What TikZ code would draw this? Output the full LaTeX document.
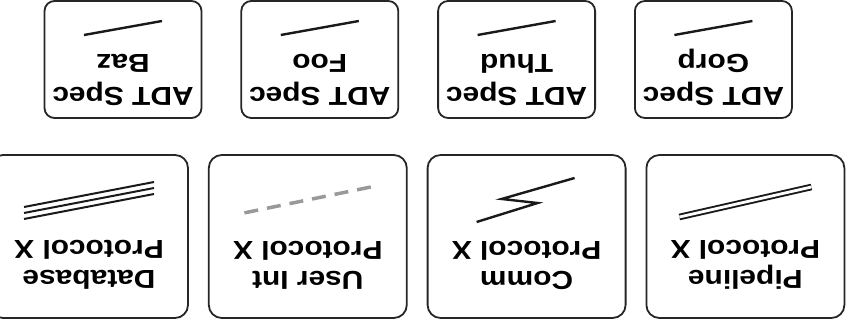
\documentclass[tikz,border=0pt]{standalone}
\usepackage{fontspec}
\setmainfont[FakeStretch=1.15]{Liberation Sans}
\usetikzlibrary{positioning}

\tikzset{
    protbox/.style={draw=black!85, line width=1.8pt, rounded corners=13pt,
        minimum width=198pt, minimum height=163pt},
    adtbox/.style={draw=black!85, line width=1.8pt, rounded corners=10pt,
        minimum width=157pt, minimum height=117pt},
    boxtext/.style={align=center, inner sep=0pt, anchor=north, transform shape,
        font=\fontsize{26}{30}\selectfont\bfseries},
    wire/.style={line width=2.4pt, black!90}
}

\begin{document}
\begin{tikzpicture}[x=1pt, y=1pt]
    \useasboundingbox (0,0) rectangle (846,329);
    \clip (0,0) rectangle (846,329);

    % the whole sheet is upside down
    \node[protbox] (dbase) at (89,92.5) {};
    \node[protbox, right=19pt of dbase] (uint) {};
    \node[protbox, right=19pt of uint] (comm) {};
    \node[protbox, right=19pt of comm] (pipe) {};

    \node[adtbox] (baz) at (123,269.5) {};
    \node[adtbox, right=38pt of baz] (foo) {};
    \node[adtbox, right=38pt of foo] (thud) {};
    \node[adtbox, right=38pt of thud] (gorp) {};

    \begin{scope}[shift={(pipe.center)}, rotate=180]
        \node[boxtext] (pipe-t) at (0,53.5) {Pipeline\\Protocol X};
        \draw[wire, line width=1.9pt, double distance=2.8pt] (-66,-49.5) -- (66,-19.5);
    \end{scope}

    \begin{scope}[shift={(comm.center)}, rotate=180]
        \node[boxtext] (comm-t) at (0,53.5) {Comm\\Protocol X};
        \draw[wire] (-48,-58.5) -- (25,-37.5) -- (-11,-33.5) -- (50,-14.5);
    \end{scope}

    \begin{scope}[shift={(uint.center)}, rotate=180]
        \node[boxtext] (uint-t) at (0,53.5) {User Int\\Protocol X};
        \draw[line width=3.5pt, black!40, dash pattern=on 14pt off 9pt] (-63,-49.5) -- (64,-23.5);
    \end{scope}

    \begin{scope}[shift={(dbase.center)}, rotate=180]
        \node[boxtext] (dbase-t) at (0,53.5) {Database\\Protocol X};
        \foreach \d in {-6,0,6}
        \draw[wire, line width=2pt] (-65,{-48.5+\d}) -- (65,{-23.5+\d});
    \end{scope}

    \foreach \b/\n in {baz/Baz, foo/Foo, thud/Thud, gorp/Gorp}
    {
        \begin{scope}[shift={(\b.center)}, rotate=180]
            \node[boxtext] (\b-t) at (0,46.5) {ADT Spec\\[3pt]\n};
            \draw[wire] (-39,-38.5) -- (39,-24.5);
        \end{scope}
    }
\end{tikzpicture}
\end{document}
